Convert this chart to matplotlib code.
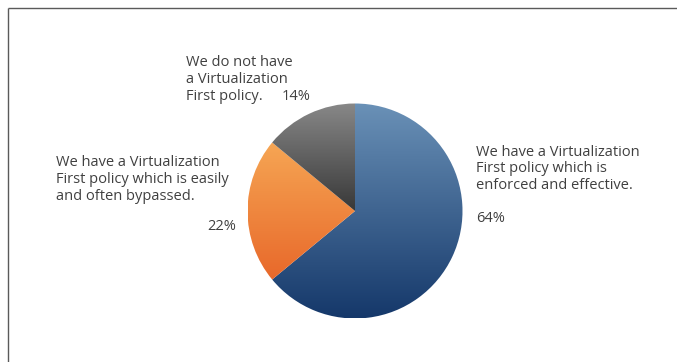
import matplotlib
matplotlib.use("Agg")
import matplotlib.pyplot as plt
import numpy as np
from matplotlib.colors import LinearSegmentedColormap

# --- data ---
labels = [
    "We have a Virtualization\nFirst policy which is\nenforced and effective.",
    "We have a Virtualization\nFirst policy which is easily\nand often bypassed.",
    "We do not have\na Virtualization\nFirst policy.",
]
shares = [64, 22, 14]
pct_labels = ["64%", "22%", "14%"]
grad_colors = [("#6a91b7", "#15386a"), ("#f6a654", "#e8682a"), ("#888888", "#383838")]

W, H = 677, 362
fig = plt.figure(figsize=(W / 100, H / 100), dpi=100)
ax = fig.add_axes([0, 0, 1, 1])

# --- pie with vertical gradients ---
wedges, _ = ax.pie(shares, startangle=90, counterclock=False, center=(355, 151),
                   radius=107.5, frame=True, wedgeprops=dict(linewidth=0, fill=False))
ax.set_xlim(0, W)
ax.set_ylim(0, H)
ax.set_aspect("equal")
ax.axis("off")

for w, (c_top, c_bot) in zip(wedges, grad_colors):
    bb = w.get_window_extent().transformed(ax.transData.inverted())
    cmap = LinearSegmentedColormap.from_list("g", [c_bot, c_top])
    grad = np.linspace(0, 1, 256).reshape(-1, 1)
    im = ax.imshow(grad, cmap=cmap, origin="lower", aspect="auto",
                   extent=[bb.x0, bb.x1, bb.y0, bb.y1], interpolation="bilinear")
    im.set_clip_path(w)

ax.set_xlim(0, W)
ax.set_ylim(0, H)

# --- labels (pixel coords, y from top) ---
txt = dict(fontsize=10.5, color="#404040", family="Open Sans")


def put_label(x, y_first, text, step=16.6):
    # one text per line so the line boxes stay tight
    for i, line in enumerate(text.split("\n")):
        ax.text(x, H - (y_first + i * step), line, ha="left", va="center", **txt)


put_label(476, 152, labels[0])
ax.text(476, H - 219, pct_labels[0], ha="left", va="center", **txt)
put_label(56, 163, labels[1])
ax.text(236, H - 226, pct_labels[1], ha="right", va="center", **txt)
put_label(186, 63, labels[2])
ax.text(311, H - 96, pct_labels[2], ha="right", va="center", **txt)

# --- frame (top and left only) ---
ax.plot([7.5, 7.5], [0, H - 7.5], color="#5a5a5a", lw=1.0, solid_capstyle="butt")
ax.plot([7.5, W], [H - 7.5, H - 7.5], color="#5a5a5a", lw=1.0, solid_capstyle="butt")

fig.savefig("out.png", dpi=100)
